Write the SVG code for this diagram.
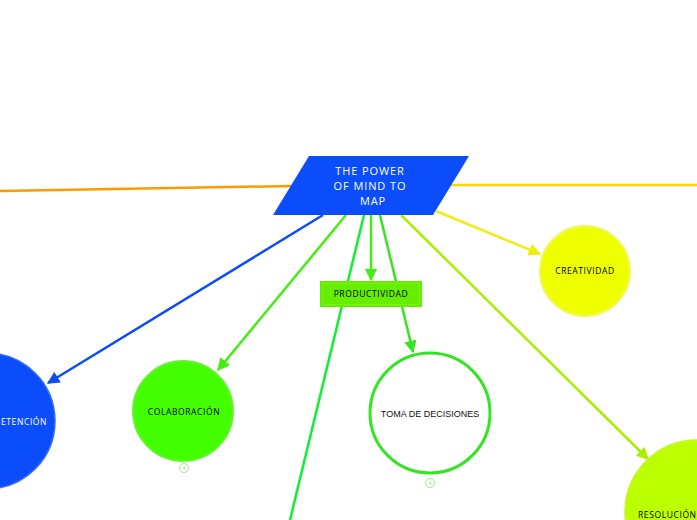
<svg xmlns="http://www.w3.org/2000/svg" width="697" height="520" viewBox="0 0 697 520">
<defs>
<style>
.lbl{font-family:"Open Sans","Liberation Sans",sans-serif;font-size:8.5px;text-anchor:middle;letter-spacing:0.6px}
.ttl{font-family:"Open Sans","Liberation Sans",sans-serif;font-size:11px;fill:#fff;text-anchor:middle;letter-spacing:0.9px}
.c{fill:none;stroke-width:2.5}
.num{fill:#fff;stroke:#99ee88;stroke-width:1}
.numt{font-family:"Liberation Sans",sans-serif;font-size:5px;fill:#88dd77;text-anchor:middle}
</style>
<marker id="aBlue" viewBox="0 0 10 10" refX="9" refY="5" markerWidth="5" markerHeight="5" orient="auto"><path d="M0,0L10,5L0,10z" fill="#0b4dfa"/></marker>
<marker id="aGreen" viewBox="0 0 10 10" refX="9" refY="5" markerWidth="5" markerHeight="5" orient="auto"><path d="M0,0L10,5L0,10z" fill="#44ee11"/></marker>
<marker id="aGreen2" viewBox="0 0 10 10" refX="9" refY="5" markerWidth="5" markerHeight="5" orient="auto"><path d="M0,0L10,5L0,10z" fill="#33e622"/></marker>
<marker id="aLime" viewBox="0 0 10 10" refX="9" refY="5" markerWidth="5" markerHeight="5" orient="auto"><path d="M0,0L10,5L0,10z" fill="#aaee00"/></marker>
<marker id="aYellow" viewBox="0 0 10 10" refX="9" refY="5" markerWidth="5" markerHeight="5" orient="auto"><path d="M0,0L10,5L0,10z" fill="#eeee11"/></marker>
</defs>
<rect width="697" height="520" fill="#fff"/>
<g id="connectors">
<path class="c" d="M0,191 L292,186" stroke="#ff9900"/>
<path class="c" d="M450,185 L697,185" stroke="#ffd500"/>
<path class="c" d="M323,215 L48,383" stroke="#0b4dfa" marker-end="url(#aBlue)"/>
<path class="c" d="M346,215 L218,370" stroke="#44ee11" marker-end="url(#aGreen)"/>
<path class="c" d="M364,215 L290,520" stroke="#11ee33"/>
<path class="c" d="M371,215 L371,280" stroke="#44ee11" marker-end="url(#aGreen)"/>
<path class="c" d="M380,215 L413,352" stroke="#33e622" marker-end="url(#aGreen2)"/>
<path class="c" d="M401,215 L648,459" stroke="#aaee00" marker-end="url(#aLime)"/>
<path class="c" d="M436,211 L540,254" stroke="#eeee11" marker-end="url(#aYellow)"/>
</g>
<g id="root">
<polygon points="309,156 469,156 433,215 273,215" fill="#0b4dfa"/>
<text class="ttl" x="370" y="175">THE POWER</text>
<text class="ttl" x="370" y="190">OF MIND TO</text>
<text class="ttl" x="373" y="205">MAP</text>
</g>
<g id="productividad">
<rect x="320" y="281" width="102" height="26" fill="#66ee00"/>
<rect x="322.5" y="283.5" width="97" height="21" fill="none" stroke="#7cf21a" stroke-width="1"/>
<text class="lbl" x="371" y="297" fill="#000">PRODUCTIVIDAD</text>
</g>
<g id="creatividad">
<circle cx="585" cy="271" r="45" fill="#eeff00" stroke="#f2f760" stroke-width="2"/>
<text class="lbl" x="585" y="274" fill="#000">CREATIVIDAD</text>
</g>
<g id="retencion">
<circle cx="-13" cy="421" r="68" fill="#0b4dfa" stroke="#3a6dfb" stroke-width="1.5"/>
<text class="lbl" x="1" y="425" fill="#fff" style="text-anchor:start">ETENCIÓN</text>
</g>
<g id="colaboracion">
<circle cx="183" cy="411" r="50" fill="#44ff00" stroke="#66f333" stroke-width="2"/>
<text class="lbl" x="184" y="415" fill="#000">COLABORACIÓN</text>
<circle class="num" cx="184" cy="468" r="4.5"/>
<text class="numt" x="184" y="470">4</text>
</g>
<g id="toma">
<circle cx="430" cy="413" r="60" fill="#fff" stroke="#33e622" stroke-width="3"/>
<text x="430" y="417" font-family="Liberation Sans,Arial,sans-serif" font-size="9" fill="#111" text-anchor="middle">TOMA DE DECISIONES</text>
<circle class="num" cx="430" cy="483" r="4.5"/>
<text class="numt" x="430" y="485">4</text>
</g>
<g id="resolucion">
<circle cx="697" cy="512" r="72" fill="#bbff00" stroke="#c6f530" stroke-width="1.5"/>
<text class="lbl" x="638" y="518" fill="#000" style="text-anchor:start">RESOLUCIÓN</text>
</g>
</svg>
